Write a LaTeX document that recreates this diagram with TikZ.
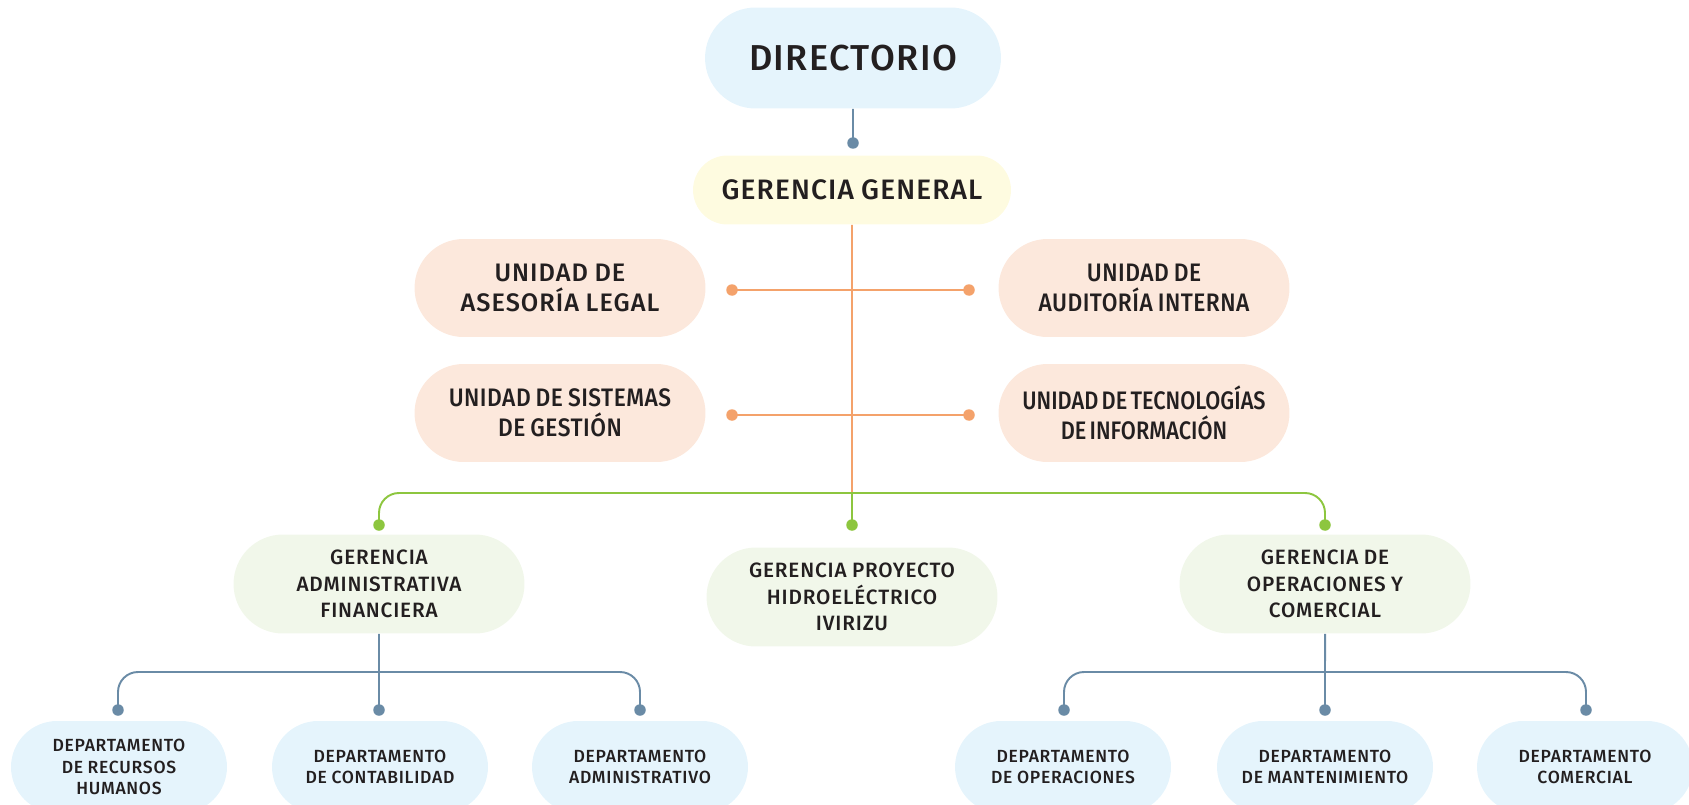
\documentclass[tikz,border=0pt]{standalone}
\usepackage{fontspec}
\setmainfont{Fira Sans Medium}[LetterSpace=4, WordSpace=0.9]
\newfontfamily\narrowfam{Fira Sans Medium}[FakeStretch=0.9, LetterSpace=2, WordSpace=0.8]
\newfontfamily\tightfam{Fira Sans Medium}[FakeStretch=0.86, WordSpace=0.6]
\usetikzlibrary{shapes.misc}
\definecolor{dirBlue}{HTML}{E5F4FC}
\definecolor{ggYellow}{HTML}{FEFBE0}
\definecolor{unitPeach}{HTML}{FCE8DC}
\definecolor{gerGreen}{HTML}{F1F7EA}
\definecolor{lineBlue}{HTML}{6A8BA6}
\definecolor{lineOrange}{HTML}{F4A26B}
\definecolor{lineGreen}{HTML}{8DC63F}
\definecolor{textDark}{HTML}{231F20}

\tikzset{
	box/.style={rounded rectangle, align=center, text=textDark, inner sep=0pt},
	dirbox/.style={box, fill=dirBlue, minimum width=5.92cm, minimum height=2.02cm, font=\fontsize{20.5}{24}\selectfont},
	ggbox/.style={box, fill=ggYellow, minimum width=6.36cm, minimum height=1.38cm, font=\fontsize{16}{19}\selectfont},
	unitbox/.style={box, fill=unitPeach, minimum width=5.82cm, minimum height=1.96cm, font=\fontsize{14.4}{17}\selectfont},
	narrowunit/.style={unitbox, font=\narrowfam\fontsize{14.4}{17}\selectfont},
	tightunit/.style={unitbox, font=\tightfam\fontsize{14.4}{17}\selectfont},
	gerbox/.style={box, fill=gerGreen, minimum width=5.82cm, minimum height=1.98cm, font=\fontsize{11.8}{15}\selectfont},
	depbox/.style={box, fill=dirBlue, minimum width=4.32cm, minimum height=1.84cm, font=\fontsize{10}{12.3}\selectfont},
	blueline/.style={draw=lineBlue, line width=1.1pt},
	orangeline/.style={draw=lineOrange, line width=1.1pt},
	greenline/.style={draw=lineGreen, line width=1.1pt}
}

\begin{document}
\begin{tikzpicture}[x=0.02cm, y=-0.02cm]
	\useasboundingbox (0,0) rectangle (1689,804);

	% nodes
	\node[dirbox] (dir) at (853,58) {DIRECTORIO};
	\node[ggbox] (gg) at (852,190) {GERENCIA GENERAL};
	\node[unitbox] (leg) at (560,288) {UNIDAD DE\\ASESORÍA LEGAL};
	\node[narrowunit] (aud) at (1144,288) {UNIDAD DE\\AUDITORÍA INTERNA};
	\node[narrowunit] (sis) at (560,413) {UNIDAD DE SISTEMAS\\DE GESTIÓN};
	\node[tightunit] (tec) at (1144,413) {UNIDAD DE TECNOLOGÍAS\\DE INFORMACIÓN};
	\node[gerbox] (gaf) at (379,584) {GERENCIA\\ADMINISTRATIVA\\FINANCIERA};
	\node[gerbox] (gph) at (852,597) {GERENCIA PROYECTO\\HIDROELÉCTRICO\\IVIRIZU};
	\node[gerbox] (gop) at (1325,584) {GERENCIA DE\\OPERACIONES Y\\COMERCIAL};
	\node[depbox] (rrhh) at (119,767) {DEPARTAMENTO\\DE RECURSOS\\HUMANOS};
	\node[depbox] (cont) at (380,767) {DEPARTAMENTO\\DE CONTABILIDAD};
	\node[depbox] (adm) at (640,767) {DEPARTAMENTO\\ADMINISTRATIVO};
	\node[depbox] (ope) at (1063,767) {DEPARTAMENTO\\DE OPERACIONES};
	\node[depbox] (man) at (1325,767) {DEPARTAMENTO\\DE MANTENIMIENTO};
	\node[depbox] (com) at (1585,767) {DEPARTAMENTO\\COMERCIAL};

	% connector ends
	\coordinate (dotGg) at (853,143);
	\coordinate (dotLeg) at (732,290);
	\coordinate (dotAud) at (969,290);
	\coordinate (dotSis) at (732,415);
	\coordinate (dotTec) at (969,415);
	\coordinate (jG) at (852,493);
	\coordinate (dotGaf) at (379,525);
	\coordinate (dotGph) at (852,525);
	\coordinate (dotGop) at (1325,525);
	\coordinate (jA) at (379,672);
	\coordinate (dotRrhh) at (118,710);
	\coordinate (dotCont) at (379,710);
	\coordinate (dotAdm) at (640,710);
	\coordinate (jO) at (1325,672);
	\coordinate (dotOpe) at (1064,710);
	\coordinate (dotMan) at (1325,710);
	\coordinate (dotCom) at (1586,710);

	\draw[blueline] (dir) -- (dotGg);
	\draw[orangeline] (gg) -- (jG);
	\draw[orangeline] (dotLeg) -- (dotAud);
	\draw[orangeline] (dotSis) -- (dotTec);
	\draw[greenline, rounded corners=0.4cm] (dotGaf) |- (jG) -| (dotGop);
	\draw[greenline] (jG) -- (dotGph);
	\draw[blueline] (gaf) -- (dotCont);
	\draw[blueline, rounded corners=0.4cm] (dotRrhh) |- (jA) -| (dotAdm);
	\draw[blueline] (gop) -- (dotMan);
	\draw[blueline, rounded corners=0.4cm] (dotOpe) |- (jO) -| (dotCom);

	\fill[lineBlue] (dotGg) circle (0.115cm);
	\foreach \d in {dotLeg,dotAud,dotSis,dotTec}
		\fill[lineOrange] (\d) circle (0.115cm);
	\foreach \d in {dotGaf,dotGph,dotGop}
		\fill[lineGreen] (\d) circle (0.115cm);
	\foreach \d in {dotRrhh,dotCont,dotAdm,dotOpe,dotMan,dotCom}
		\fill[lineBlue] (\d) circle (0.115cm);
\end{tikzpicture}
\end{document}
